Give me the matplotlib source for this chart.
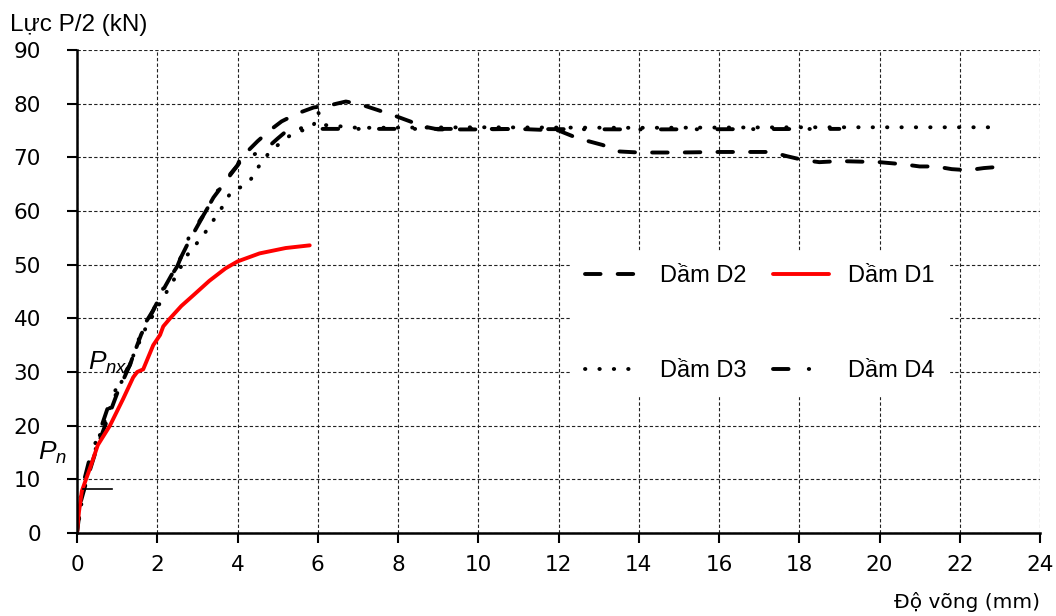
import numpy as np
import matplotlib
matplotlib.use("Agg")
from matplotlib import pyplot as plt

# load-deflection data (deflection mm, load kN)
d1_x = [0, 0.05, 0.12, 0.2, 0.32, 0.52, 0.82, 1.15, 1.4, 1.5, 1.65, 1.9, 2.07, 2.15, 2.32,
        2.6, 2.9, 3.3, 3.7, 4.0, 4.55, 5.2, 5.8]
d1_y = [0, 4, 7.8, 9.5, 12, 16.4, 20, 25, 29, 30, 30.5, 35, 36.9, 38.5, 40,
        42.3, 44.3, 47, 49.3, 50.6, 52.1, 53.1, 53.6]

d2_x = [0, 0.1, 0.25, 0.5, 0.75, 1.0, 1.3, 1.6, 1.9, 2.2, 2.5, 2.8, 3.1, 3.4, 3.7, 4.0,
        4.3, 4.5, 4.8, 5.1, 5.5, 5.9, 6.3, 6.7, 7.05, 7.5, 7.9, 8.3, 8.6, 9.0, 10.0, 11.0,
        12.0, 12.5, 13.1, 13.5, 14.0, 15.0, 16.0, 17.3, 17.7, 18.1, 18.5, 19.0, 20.0,
        20.6, 21.0, 21.4, 21.8, 22.2, 22.6, 23.1]
d2_y = [0, 6, 10, 16, 21, 26, 31, 37, 41.5, 46, 50, 54.5, 58.5, 62.5, 65.5, 68.5,
        71.5, 73, 75, 76.7, 78.2, 79.3, 79.7, 80.4, 79.9, 78.8, 77.8, 76.7, 75.8, 75.2, 75.2, 75.3,
        75, 73.5, 72.3, 71.1, 70.9, 70.9, 71, 71, 70.2, 69.5, 69.1, 69.3, 69.1,
        68.7, 68.3, 68.3, 67.8, 67.6, 68, 68.3]

d3_x = [0, 0.1, 0.2, 0.4, 0.6, 0.8, 1.1, 1.4, 1.7, 2.0, 2.4, 2.75, 3.15, 3.6, 3.85,
        4.1, 4.3, 4.5, 4.8, 5.2, 5.6, 5.9, 6.0, 6.2, 7.0, 10.0, 14.0, 18.0, 22.8]
d3_y = [0, 5, 10, 14, 19, 23, 28, 33, 38, 42, 47, 51.8, 55.5, 60.5, 63.7,
        64.5, 65.5, 68, 71, 73.5, 75.5, 76, 78.5, 76, 75.5, 75.6, 75.5, 75.6, 75.6]

d4_x = [0, 0.05, 0.15, 0.32, 0.57, 0.82, 1.07, 1.32, 1.65, 1.9, 2.15, 2.5, 2.8, 3.15,
        3.5, 3.8, 4.0, 4.1, 4.4, 4.7, 5.0, 5.3, 5.6, 6.0, 10.0, 14.0, 19.0]
d4_y = [0, 5, 9, 14, 19, 24.5, 28.3, 31.3, 38.5, 41.5, 45.6, 49.7, 55.3, 59.2,
        63.7, 66.7, 68.5, 70.4, 70.5, 71.5, 73.5, 75.4, 75, 75.3, 75.3, 75.2, 75.3]

pn_load = 8.2
pn_x = [0.15, 0.87]

plt.rcParams['font.family'] = ['Liberation Sans', 'DejaVu Sans']
plt.rcParams['mathtext.fontset'] = 'custom'
plt.rcParams['mathtext.it'] = 'Liberation Sans:italic'
plt.rcParams['mathtext.rm'] = 'Liberation Sans'

fig = plt.figure(figsize=(10.56, 6.16), dpi=100)
ax = fig.add_axes([77 / 1056, 1 - 533 / 616, 963 / 1056, 483 / 616])

lw = 2.8
l2, = ax.plot(d2_x, d2_y, color='black', lw=lw, dashes=(4.0, 4.4),
              dash_capstyle='round', label='Dầm D2')
l3, = ax.plot(d3_x, d3_y, color='black', lw=lw, dashes=(0.1, 3.6),
              dash_capstyle='round', label='Dầm D3')
l4, = ax.plot(d4_x, d4_y, color='black', lw=lw, dashes=(4.0, 5.2, 0.1, 5.2),
              dash_capstyle='round', label='Dầm D4')
l1, = ax.plot(d1_x, d1_y, color='#ff0000', lw=2.8, solid_capstyle='round',
              label='Dầm D1')

ax.plot(pn_x, [pn_load, pn_load], color='black', lw=1.2)
ax.text(0.27, 30.4, r'$P_{nx}$', fontsize=19, ha='left', va='baseline')
ax.text(-0.97, 13.6, r'$P_{n}$', fontsize=19, ha='left', va='baseline', clip_on=False)

ax.set_xlim(0, 24)
ax.set_ylim(0, 90)
ax.set_xticks(np.arange(0, 25, 2))
ax.set_yticks(np.arange(0, 91, 10))
ax.grid(True, color='#222222', lw=0.8, linestyle=(0, (3, 2)))
ax.set_axisbelow(True)
for s in ['top', 'right']:
    ax.spines[s].set_visible(False)
for s in ['left', 'bottom']:
    ax.spines[s].set_linewidth(1.8)
ax.tick_params(axis='both', direction='out', length=7, width=1.5, labelsize=15.5)
ax.tick_params(axis='y', pad=19)
ax.tick_params(axis='x', pad=9)
for t in ax.get_xticklabels() + ax.get_yticklabels():
    t.set_fontfamily('DejaVu Sans')

leg = ax.legend(handles=[l2, l3, l1, l4], ncol=2, loc='center',
                bbox_to_anchor=(0.709, 0.434), fontsize=17, frameon=True,
                labelspacing=3.1, handlelength=2.4, handletextpad=0.8,
                columnspacing=1.1, borderpad=0.6, fancybox=False)
leg.get_frame().set_edgecolor('white')
leg.get_frame().set_facecolor('white')
leg.get_frame().set_alpha(1)

fig.text(10 / 1056, 1 - 31 / 616, 'Lực P/2 (kN)', fontsize=17.5, va='baseline')
fig.text(1040 / 1056, 1 - 608 / 616, 'Độ võng (mm)', fontsize=14.5,
         ha='right', va='baseline', family='DejaVu Sans')

fig.savefig('out.png', dpi=100)
